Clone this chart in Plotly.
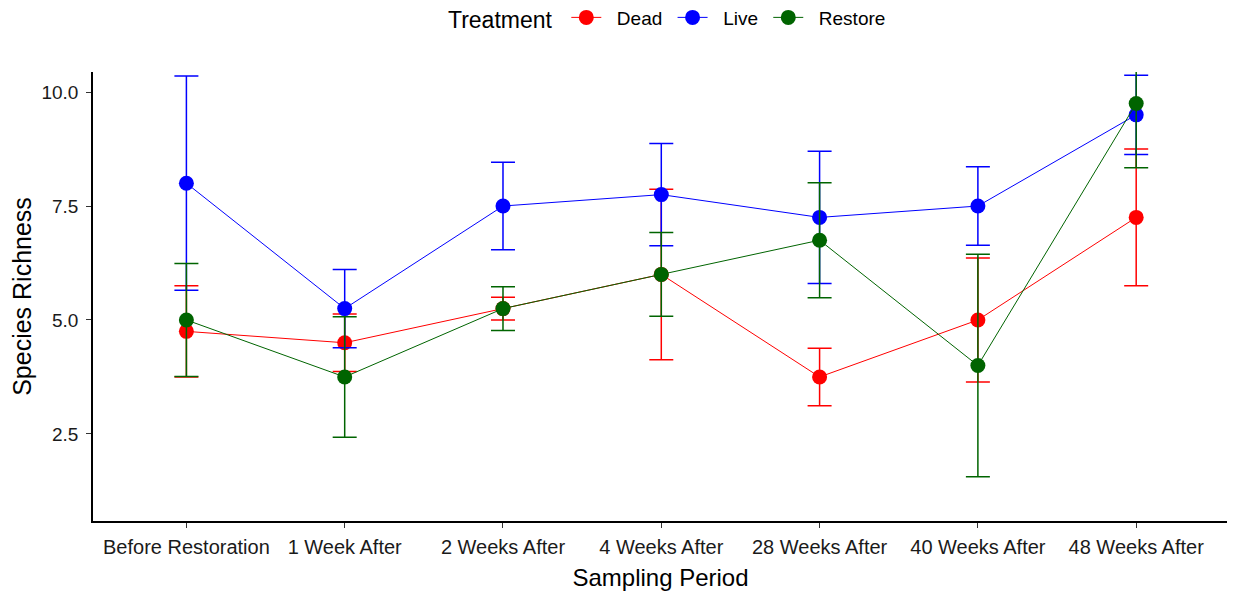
import plotly.graph_objects as go

periods = ["Before Restoration", "1 Week After", "2 Weeks After", "4 Weeks After",
           "28 Weeks After", "40 Weeks After", "48 Weeks After"]
treatments = ["Dead", "Live", "Restore"]
dead_mean = [4.75, 4.5, 5.25, 6.0, 3.75, 5.0, 7.25]
dead_se = [1.0, 0.63, 0.25, 1.87, 0.63, 1.36, 1.5]
live_mean = [8.0, 5.25, 7.5, 7.75, 7.25, 7.5, 9.5]
live_se = [2.35, 0.86, 0.96, 1.12, 1.45, 0.86, 0.87]
restore_mean = [5.0, 3.75, 5.25, 6.0, 6.75, 4.0, 9.75]
restore_se = [1.24, 1.32, 0.48, 0.92, 1.26, 2.44, 1.41]
colors = ["#FF0000", "#0000FF", "#006400"]

means = [dead_mean, live_mean, restore_mean]
ses = [dead_se, live_se, restore_se]

NB = "\u00a0"
fig = go.Figure()
for i, (name, m, se, col) in enumerate(zip(treatments, means, ses, colors)):
    label = NB * 2 + name + (NB if i < len(treatments) - 1 else "")
    fig.add_trace(go.Scatter(
        x=periods, y=m, name=label, mode="lines+markers",
        line=dict(color=col, width=1),
        marker=dict(color=col, size=15, symbol="circle"),
        error_y=dict(type="data", array=se, visible=True, color=col,
                     thickness=1.5, width=12),
        cliponaxis=True,
    ))

# page body has an 8px margin; size the figure so it fills the window exactly
fig.update_layout(
    width=1227, height=585,
    margin=dict(l=85, r=7, t=64, b=72, autoexpand=False),
    plot_bgcolor="white", paper_bgcolor="white",
    font=dict(family="Liberation Sans, Arial", color="#1a1a1a"),
    showlegend=True,
    legend=dict(orientation="h", x=0.507, xanchor="center", xref="paper",
                yref="container", y=0.982, yanchor="middle",
                title=dict(text="Treatment ", font=dict(size=23, color="black")),
                font=dict(size=19, color="black"), itemwidth=30),
    xaxis=dict(
        type="category", range=[-0.59, 6.58], automargin=False,
        showline=True, linecolor="black", linewidth=1.5, mirror=False,
        ticks="outside", ticklen=5, tickcolor="#333333", tickwidth=1,
        showgrid=False, zeroline=False,
        tickfont=dict(size=20, color="#1a1a1a"), ticklabelstandoff=2,
        title=dict(text="Sampling Period", font=dict(size=24, color="black"), standoff=12),
    ),
    yaxis=dict(
        range=[0.59, 10.44], automargin=False,
        tickvals=[2.5, 5.0, 7.5, 10.0], ticktext=["2.5", "5.0", "7.5", "10.0"],
        showline=True, linecolor="black", linewidth=1.5,
        ticks="outside", ticklen=5, tickcolor="#333333", tickwidth=1,
        showgrid=False, zeroline=False,
        tickfont=dict(size=19, color="#1a1a1a"), ticklabelstandoff=4,
        title=dict(text="Species Richness", font=dict(size=25, color="black"), standoff=6),
    ),
)

fig.write_html("out.html")
